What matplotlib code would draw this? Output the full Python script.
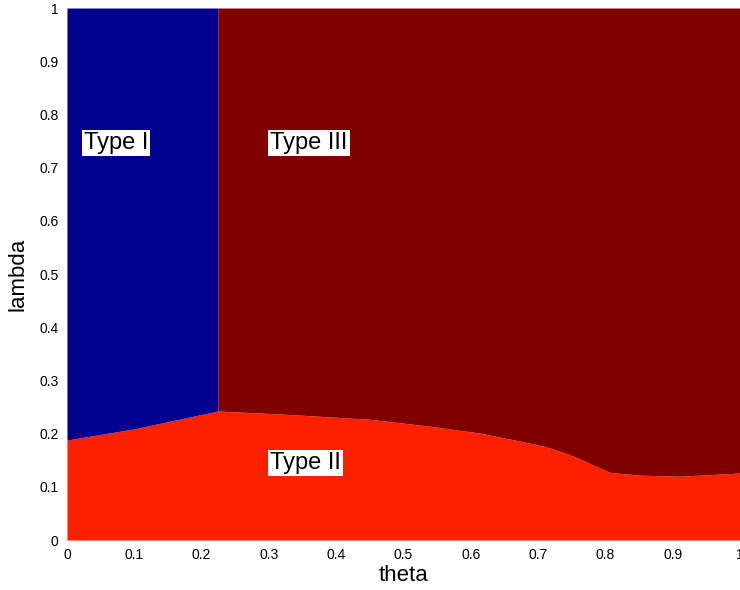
import matplotlib
matplotlib.use("Agg")
import matplotlib.pyplot as plt
import numpy as np

plt.rcParams['font.family'] = ['Liberation Sans', 'DejaVu Sans']

# boundary between Type II (below) and Types I / III (above)
theta_pts = [0.0, 0.1, 0.224, 0.316, 0.45, 0.539, 0.614, 0.673, 0.71, 0.737, 0.762, 0.782, 0.807, 0.85, 0.911, 1.0]
lambda_pts = [0.188, 0.209, 0.2425, 0.237, 0.227, 0.214, 0.201, 0.186, 0.176, 0.165, 0.153, 0.141, 0.127, 0.122, 0.120, 0.126]
theta_split = 0.224  # Type I / Type III boundary

labels = ["Type I", "Type II", "Type III"]
label_pos = [(0.025, 0.746), (0.302, 0.145), (0.302, 0.746)]

c_blue = (0.0, 0.0, 0.56)
c_dark = (0.5, 0.0, 0.0)
c_red = (1.0, 0.125, 0.0)

fig = plt.figure(figsize=(7.4, 5.9), dpi=100)
ax = fig.add_axes([0.0905, 0.0847, 0.9095, 0.9017])

th = np.array(theta_pts)
lam = np.array(lambda_pts)
ax.fill_between(th, 0, lam, color=c_red, linewidth=0)
left = th <= theta_split
ax.fill_between(th[left], lam[left], 1, color=c_blue, linewidth=0)
right = th >= theta_split
ax.fill_between(th[right], lam[right], 1, color=c_dark, linewidth=0)

for txt, (x, y) in zip(labels, label_pos):
    ax.text(x, y, txt, fontsize=17, ha='left', va='center',
            bbox=dict(facecolor='white', edgecolor='none', pad=1.5))

ax.set_xlim(0, 1)
ax.set_ylim(0, 1)
ax.set_xticks(np.arange(0, 1.01, 0.1))
ax.set_yticks(np.arange(0, 1.01, 0.1))
ax.set_xticklabels(["0", "0.1", "0.2", "0.3", "0.4", "0.5", "0.6", "0.7", "0.8", "0.9", "1"])
ax.set_yticklabels(["0", "0.1", "0.2", "0.3", "0.4", "0.5", "0.6", "0.7", "0.8", "0.9", "1"])
ax.tick_params(length=0, labelsize=10, pad=6)
for s in ax.spines.values():
    s.set_visible(False)

ax.set_xlabel("theta", fontsize=16, labelpad=2)
ax.set_ylabel("lambda", fontsize=16, labelpad=8)

fig.savefig("out.png", dpi=100)
